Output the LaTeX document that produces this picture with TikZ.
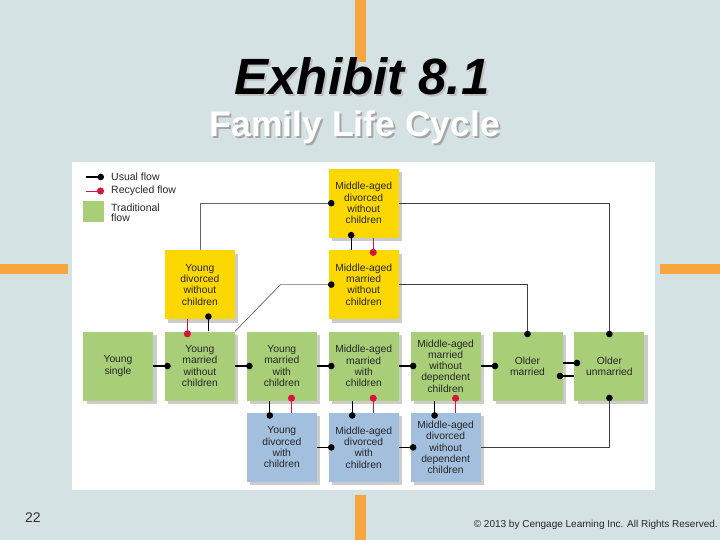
\documentclass[tikz,border=0pt]{standalone}
\usepackage{fontspec}
\setmainfont{Liberation Sans}
\usetikzlibrary{positioning}
\usetikzlibrary{arrows.meta}
\usetikzlibrary{shadows}
\definecolor{slidebg}{RGB}{213,226,228}
\definecolor{barorange}{RGB}{246,166,60}
\definecolor{tradgreen}{RGB}{169,206,120}
\definecolor{divyellow}{RGB}{252,216,0}
\definecolor{divblue}{RGB}{162,191,222}
\definecolor{recred}{RGB}{214,20,60}
\tikzset{
    stage/.style = {rectangle, minimum width=70pt, minimum height=69pt, inner sep=1pt, align=center, text=black!85,
        font=\fontsize{10.3}{11.3}\selectfont,
        drop shadow={shadow xshift=3.5pt, shadow yshift=-3.5pt, opacity=1, fill=black!20}},
    stageg/.style = {stage, fill=tradgreen},
    stagey/.style = {stage, fill=divyellow},
    stageb/.style = {stage, fill=divblue},
    edgeu/.style = {-{Circle[length=6.5pt]}, line width=1.2pt, black, shorten >=-6pt}, % usual
    edger/.style = {-{Circle[length=7pt]}, line width=0.9pt, recred, shorten >=-6pt}, % recycled
    edgel/.style = {-{Circle[length=6.5pt,color=black]}, line width=1pt, black!75, shorten >=-6pt}, % long way round
    edget/.style = {-{Circle[length=6.5pt,color=black]}, line width=0.7pt, black!60, shorten >=-6pt}, % thin
    bar/.style = {fill=barorange, draw=none},
    legendtxt/.style = {anchor=west, inner sep=0pt, align=left, text=black!85, font=\fontsize{10.5}{10}\selectfont}
}

\begin{document}
\begin{tikzpicture}[x=1pt, y=-1pt]
  \fill[slidebg] (0,0) rectangle (720,540);
  \useasboundingbox (0,0) rectangle (720,540);
  \fill[white] (72,162) rectangle (655,490);
  % orange bars
  \fill[bar] (355,0) rectangle (366,62);
  \fill[bar] (355,495) rectangle (366,540);
  \fill[bar] (0,264) rectangle (68,274);
  \fill[bar] (660,264) rectangle (720,274);
  % titles
  \node[anchor=base, text=black!25, font=\fontsize{51}{51}\selectfont\bfseries\itshape] (titleS) at (364,97) {Exhibit 8.1};
  \node[anchor=base, font=\fontsize{51}{51}\selectfont\bfseries\itshape] (title) at (362,95) {Exhibit 8.1};
  \node[anchor=base, text=black!35, font=\fontsize{35.5}{35.5}\selectfont\bfseries] (subS) at (357,139) {Family Life Cycle};
  \node[anchor=base, text=white, font=\fontsize{35.5}{35.5}\selectfont\bfseries] (sub) at (355,137) {Family Life Cycle};
  \node[anchor=base, text=black!80, font=\fontsize{14}{14}\selectfont] (pgno) at (33,522) {22};
  \node[anchor=base east, inner sep=0pt, text=black!85, font=\fontsize{10}{10}\selectfont] (copy) at (718,527) {© 2013 by Cengage Learning Inc. All Rights Reserved.};

  % legend
  \node[legendtxt] (lgUsual) at (111,177) {Usual flow};
  \node[legendtxt] (lgRec) at (111,191) {Recycled flow};
  \node[legendtxt] (lgTrad) at (111,213) {Traditional\\flow};
  \node[fill=tradgreen, minimum size=21pt, inner sep=0pt] (lgBox) at (93.5,211.5) {};
  \coordinate (lgU0) at (86,177);
  \coordinate (lgR0) at (86,191);
  \draw[edgeu, shorten >=7pt] (lgU0) -- (lgUsual.west);
  \draw[edger, shorten >=7pt] (lgR0) -- (lgRec.west);

  % traditional row
  \node[stageg] (ys) at (118,366) {Young\\single};
  \node[stageg, right=11.5pt of ys] (ymwoc) {Young\\married\\without\\children};
  \node[stageg, right=11.5pt of ymwoc] (ymwc) {Young\\married\\with\\children};
  \node[stageg, right=11.5pt of ymwc] (mamwc) {Middle-aged\\married\\with\\children};
  \node[stageg, right=11.5pt of mamwc] (mamwodc) {Middle-aged\\married\\without\\dependent\\children};
  \node[stageg, right=11.5pt of mamwodc] (om) {Older\\married};
  \node[stageg, right=11.5pt of om] (ou) {Older\\unmarried};
  % without children
  \node[stagey, above=12pt of ymwoc] (ydwoc) {Young\\divorced\\without\\children};
  \node[stagey, above=12pt of mamwc] (mamwoc) {Middle-aged\\married\\without\\children};
  \node[stagey, above=12pt of mamwoc] (madwoc) {Middle-aged\\divorced\\without\\children};
  % with children
  \node[stageb, below=12pt of ymwc] (ydwc) {Young\\divorced\\with\\children};
  \node[stageb, below=12pt of mamwc] (madwc) {Middle-aged\\divorced\\with\\children};
  \node[stageb, below=12pt of mamwodc] (madwodc) {Middle-aged\\divorced\\without\\dependent\\children};

  % usual flow
  \draw[edgeu] (ys) -- (ymwoc);
  \draw[edgeu] (ymwoc) -- (ymwc);
  \draw[edgeu] (ymwc) -- (mamwc);
  \draw[edgeu] (mamwc) -- (mamwodc);
  \draw[edgeu] (mamwodc) -- (om);
  \draw[edgeu] ([yshift=3pt]om.east) -- ([yshift=3pt]ou.west);
  \draw[edgeu] ([yshift=-10pt]ou.west) -- ([yshift=-10pt]om.east);
  \draw[edgeu] ([xshift=8.5pt]ymwoc.north) -- ([xshift=8.5pt]ydwoc.south);
  \draw[edgeu] ([xshift=-12pt]ymwc.south) -- ([xshift=-12pt]ydwc.north);
  \draw[edgeu] ([xshift=-11.5pt]mamwc.south) -- ([xshift=-11.5pt]madwc.north);
  \draw[edgeu] ([xshift=-11pt]mamwodc.south) -- ([xshift=-11pt]madwodc.north);
  \draw[edgeu] ([xshift=-12.5pt]mamwoc.north) -- ([xshift=-12.5pt]madwoc.south);
  \draw[edgeu] (ydwc) -- (madwc);
  \draw[edgeu] (madwc) -- (madwodc);
  % recycled flow
  \draw[edger] ([xshift=-12.5pt]ydwoc.south) -- ([xshift=-12.5pt]ymwoc.north);
  \draw[edger] ([xshift=9.7pt]ydwc.north) -- ([xshift=9.7pt]ymwc.south);
  \draw[edger] ([xshift=9.5pt]madwc.north) -- ([xshift=9.5pt]mamwc.south);
  \draw[edger] ([xshift=10pt]madwodc.north) -- ([xshift=10pt]mamwodc.south);
  \draw[edger] ([xshift=9.5pt]madwoc.south) -- ([xshift=9.5pt]mamwoc.north);
  % long connectors
  \draw[edgel] (madwodc.east) -| (ou.south);
  \draw[edgel] (mamwoc.east) -| (om.north);
  \draw[edgel] (madwoc.east) -| (ou.north);
  \draw[edget] (ydwoc.north) |- (madwoc.west);
  \draw[edget] (ymwoc.north east) -- ([xshift=-48pt]mamwoc.west) -- (mamwoc.west);
\end{tikzpicture}
\end{document}
